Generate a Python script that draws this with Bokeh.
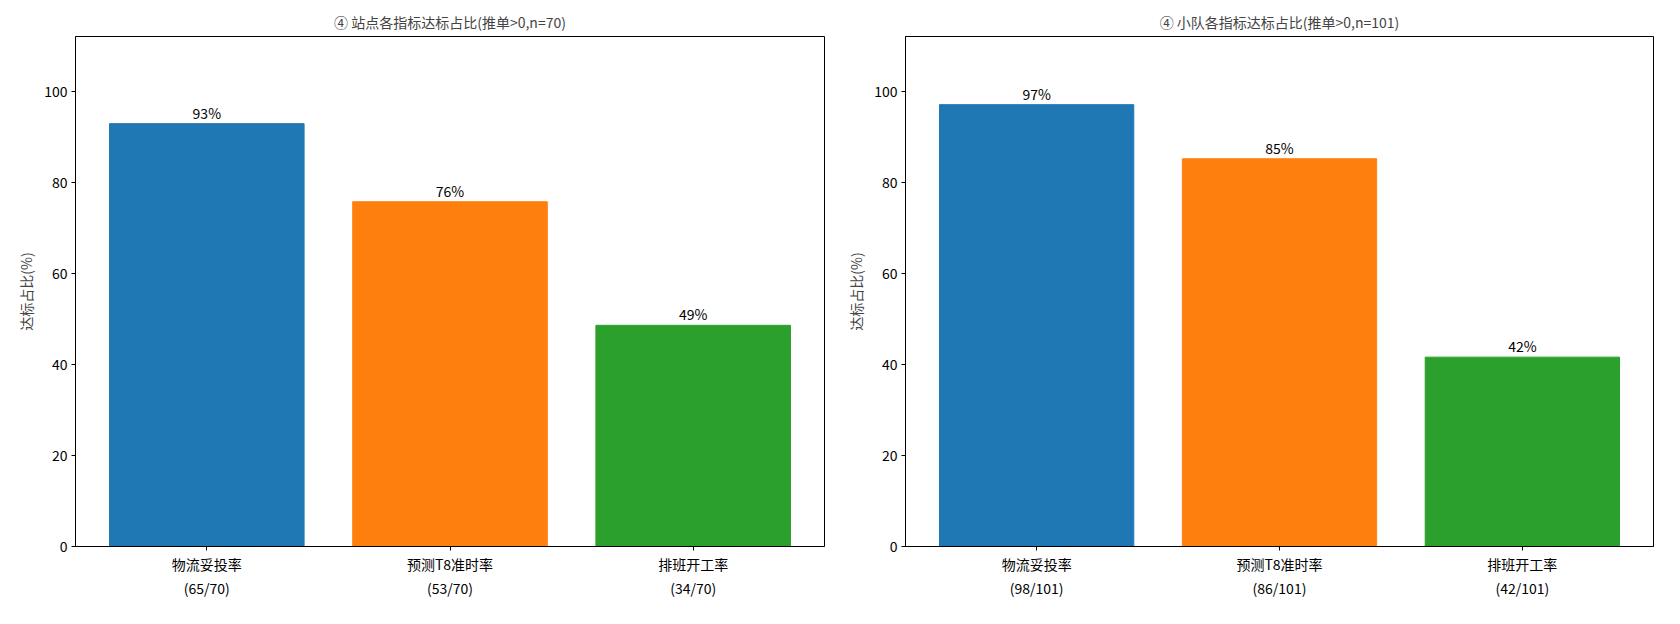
from bokeh.plotting import figure
from bokeh.layouts import row
from bokeh.models import ColumnDataSource, FixedTicker, Range1d
from bokeh.core.properties import value
from bokeh.embed import file_html
from bokeh.resources import INLINE

categories = ["物流妥投率", "预测T8准时率", "排班开工率"]
colors = ["#1f77b4", "#ff7f0e", "#2ca02c"]
site_hit = [65, 53, 34]
site_n = 70
team_hit = [98, 86, 42]
team_n = 101
titles = ["④ 站点各指标达标占比(推单>0,n=70)", "④ 小队各指标达标占比(推单>0,n=101)"]
y_ticks = [0, 20, 40, 60, 80, 100]
FONT = "Noto Sans CJK SC"
FS = "14px"

def make(hit, n, title, width, bl, br):
    pct = [h / n * 100 for h in hit]
    xs = list(range(len(categories)))
    src = ColumnDataSource(dict(x=xs, top=pct, color=colors,
                                lab=[f"{round(v)}%" for v in pct]))
    p = figure(width=width, height=600, output_backend="svg", toolbar_location=None,
               x_range=Range1d(-0.54, 2.54), y_range=Range1d(0, 112),
               min_border_left=bl, min_border_right=br, min_border_top=36, min_border_bottom=52,
               title=title)
    p.title.align = "center"
    p.title.text_font = FONT
    p.title.text_font_size = FS
    p.title.text_font_style = "normal"
    p.vbar(x="x", top="top", width=0.8, color="color", source=src)
    p.text(x="x", y="top", text="lab", source=src, text_align="center", text_baseline="bottom",
           y_offset=-1, text_font=value(FONT), text_font_size=FS, text_color="black")
    p.xgrid.visible = False
    p.ygrid.visible = False
    p.outline_line_color = "black"
    p.outline_line_alpha = 1
    p.xaxis.ticker = FixedTicker(ticks=xs)
    p.xaxis.major_label_overrides = {i: f"{c}\n({h}/{n})" for i, (c, h) in enumerate(zip(categories, hit))}
    p.yaxis.ticker = FixedTicker(ticks=y_ticks)
    p.yaxis.axis_label = "达标占比(%)"
    for ax in (p.xaxis, p.yaxis):
        ax.axis_line_color = "black"
        ax.major_tick_in = 0
        ax.major_tick_out = 4
        ax.minor_tick_line_color = None
        ax.major_label_text_font = FONT
        ax.major_label_text_font_size = FS
        ax.major_label_text_color = "black"
        ax.axis_label_text_font = FONT
        ax.axis_label_text_font_size = FS
        ax.axis_label_text_font_style = "normal"
    p.yaxis.major_label_standoff = 4
    p.xaxis.major_label_standoff = 3
    return p

p1 = make(site_hit, site_n, titles[0], 836, 75, 12)
p2 = make(team_hit, team_n, titles[1], 827, 69, 10)
p = row(p1, p2)
open("out.html", "w").write(file_html(p, INLINE))
